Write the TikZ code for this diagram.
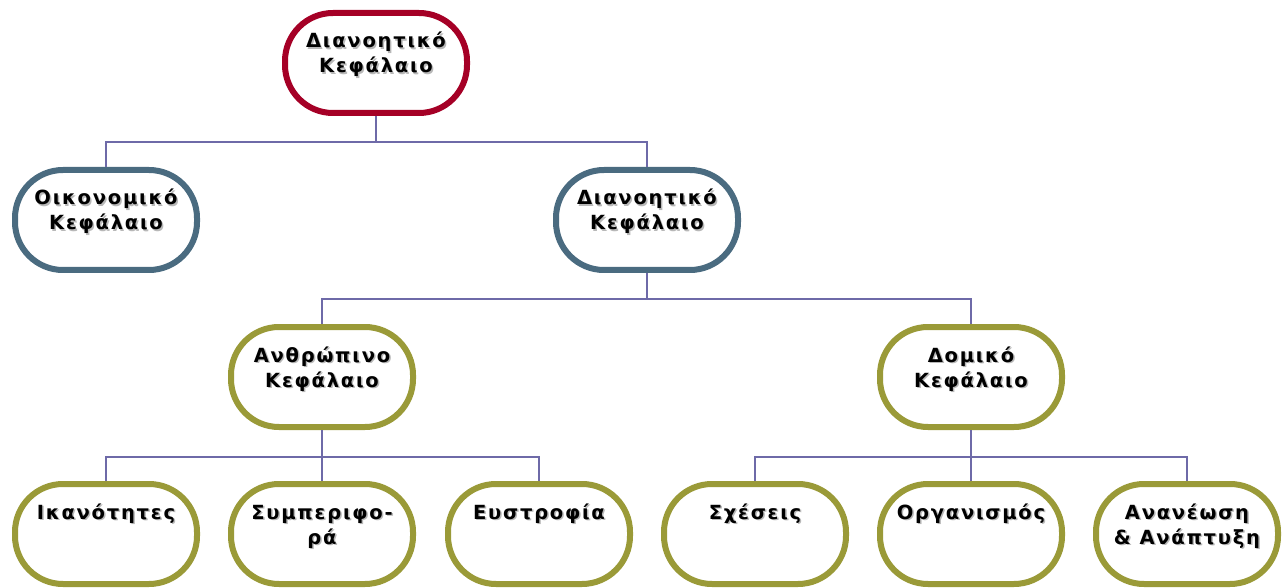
\documentclass[tikz,border=0pt]{standalone}
\usepackage{fontspec}
\newfontfamily\boxfont[LetterSpace=9]{DejaVu Sans Bold}
\definecolor{rootred}{HTML}{A50026}
\definecolor{steel}{HTML}{4A6B80}
\definecolor{olive}{HTML}{9A9A38}
\definecolor{link}{HTML}{6E6AA8}
\tikzset{
  capbox/.style={draw=#1, line width=6pt, rounded corners=48pt, minimum width=182pt,
    minimum height=100pt, fill=white, inner sep=0pt},
  captext/.style={font=\boxfont\fontsize{19.5}{25}\selectfont,
    anchor=base, inner sep=0pt},
  capshadow/.style={captext, text=black!28},
  tree/.style={draw=link, line width=1.6pt}
}
\newcommand\twoline[1]{\begin{tabular}[t]{@{}c@{}}#1\end{tabular}}
% #1 name, #2 centre x, #3 top y, #4 border colour, #5 label
\newcommand\capnode[5]{%
  \node[capbox=#4] (#1) at (#2,{-#3-53}) {};
  \node[capshadow] (#1-s) at ({#2+1.5},{-#3-38-1.5}) {\twoline{#5}};
  \node[captext] (#1-t) at (#2,{-#3-38}) {\twoline{#5}};
}
\begin{document}
\begin{tikzpicture}[x=1pt,y=1pt]
  \useasboundingbox (0,0) rectangle (1286,-588);
  \clip (0,0) rectangle (1286,-588);
  % boxes
  \capnode{root}{376}{10}{rootred}{Διανοητικό\\Κεφάλαιο}
  \capnode{oik}{106}{167}{steel}{Οικονομικό\\Κεφάλαιο}
  \capnode{dia}{647}{167}{steel}{Διανοητικό\\Κεφάλαιο}
  \capnode{anth}{322}{324}{olive}{Ανθρώπινο\\Κεφάλαιο}
  \capnode{dom}{971}{324}{olive}{Δομικό\\Κεφάλαιο}
  \capnode{ikan}{106}{481}{olive}{Ικανότητες}
  \capnode{symp}{322}{481}{olive}{Συμπεριφο-\\ρά}
  \capnode{eystr}{539}{481}{olive}{Ευστροφία}
  \capnode{sxes}{755}{481}{olive}{Σχέσεις}
  \capnode{org}{971}{481}{olive}{Οργανισμός}
  \capnode{anan}{1187}{481}{olive}{Ανανέωση\\\& Ανάπτυξη}
  % connectors
  \draw[tree] (root.south) -- ++(0,-26) -| (oik.north);
  \draw[tree] (root.south) -- ++(0,-26) -| (dia.north);
  \draw[tree] (dia.south) -- ++(0,-26) -| (anth.north);
  \draw[tree] (dia.south) -- ++(0,-26) -| (dom.north);
  \draw[tree] (anth.south) -- ++(0,-27) -| (ikan.north);
  \draw[tree] (anth.south) -- (symp.north);
  \draw[tree] (anth.south) -- ++(0,-27) -| (eystr.north);
  \draw[tree] (dom.south) -- ++(0,-27) -| (sxes.north);
  \draw[tree] (dom.south) -- (org.north);
  \draw[tree] (dom.south) -- ++(0,-27) -| (anan.north);
\end{tikzpicture}
\end{document}
